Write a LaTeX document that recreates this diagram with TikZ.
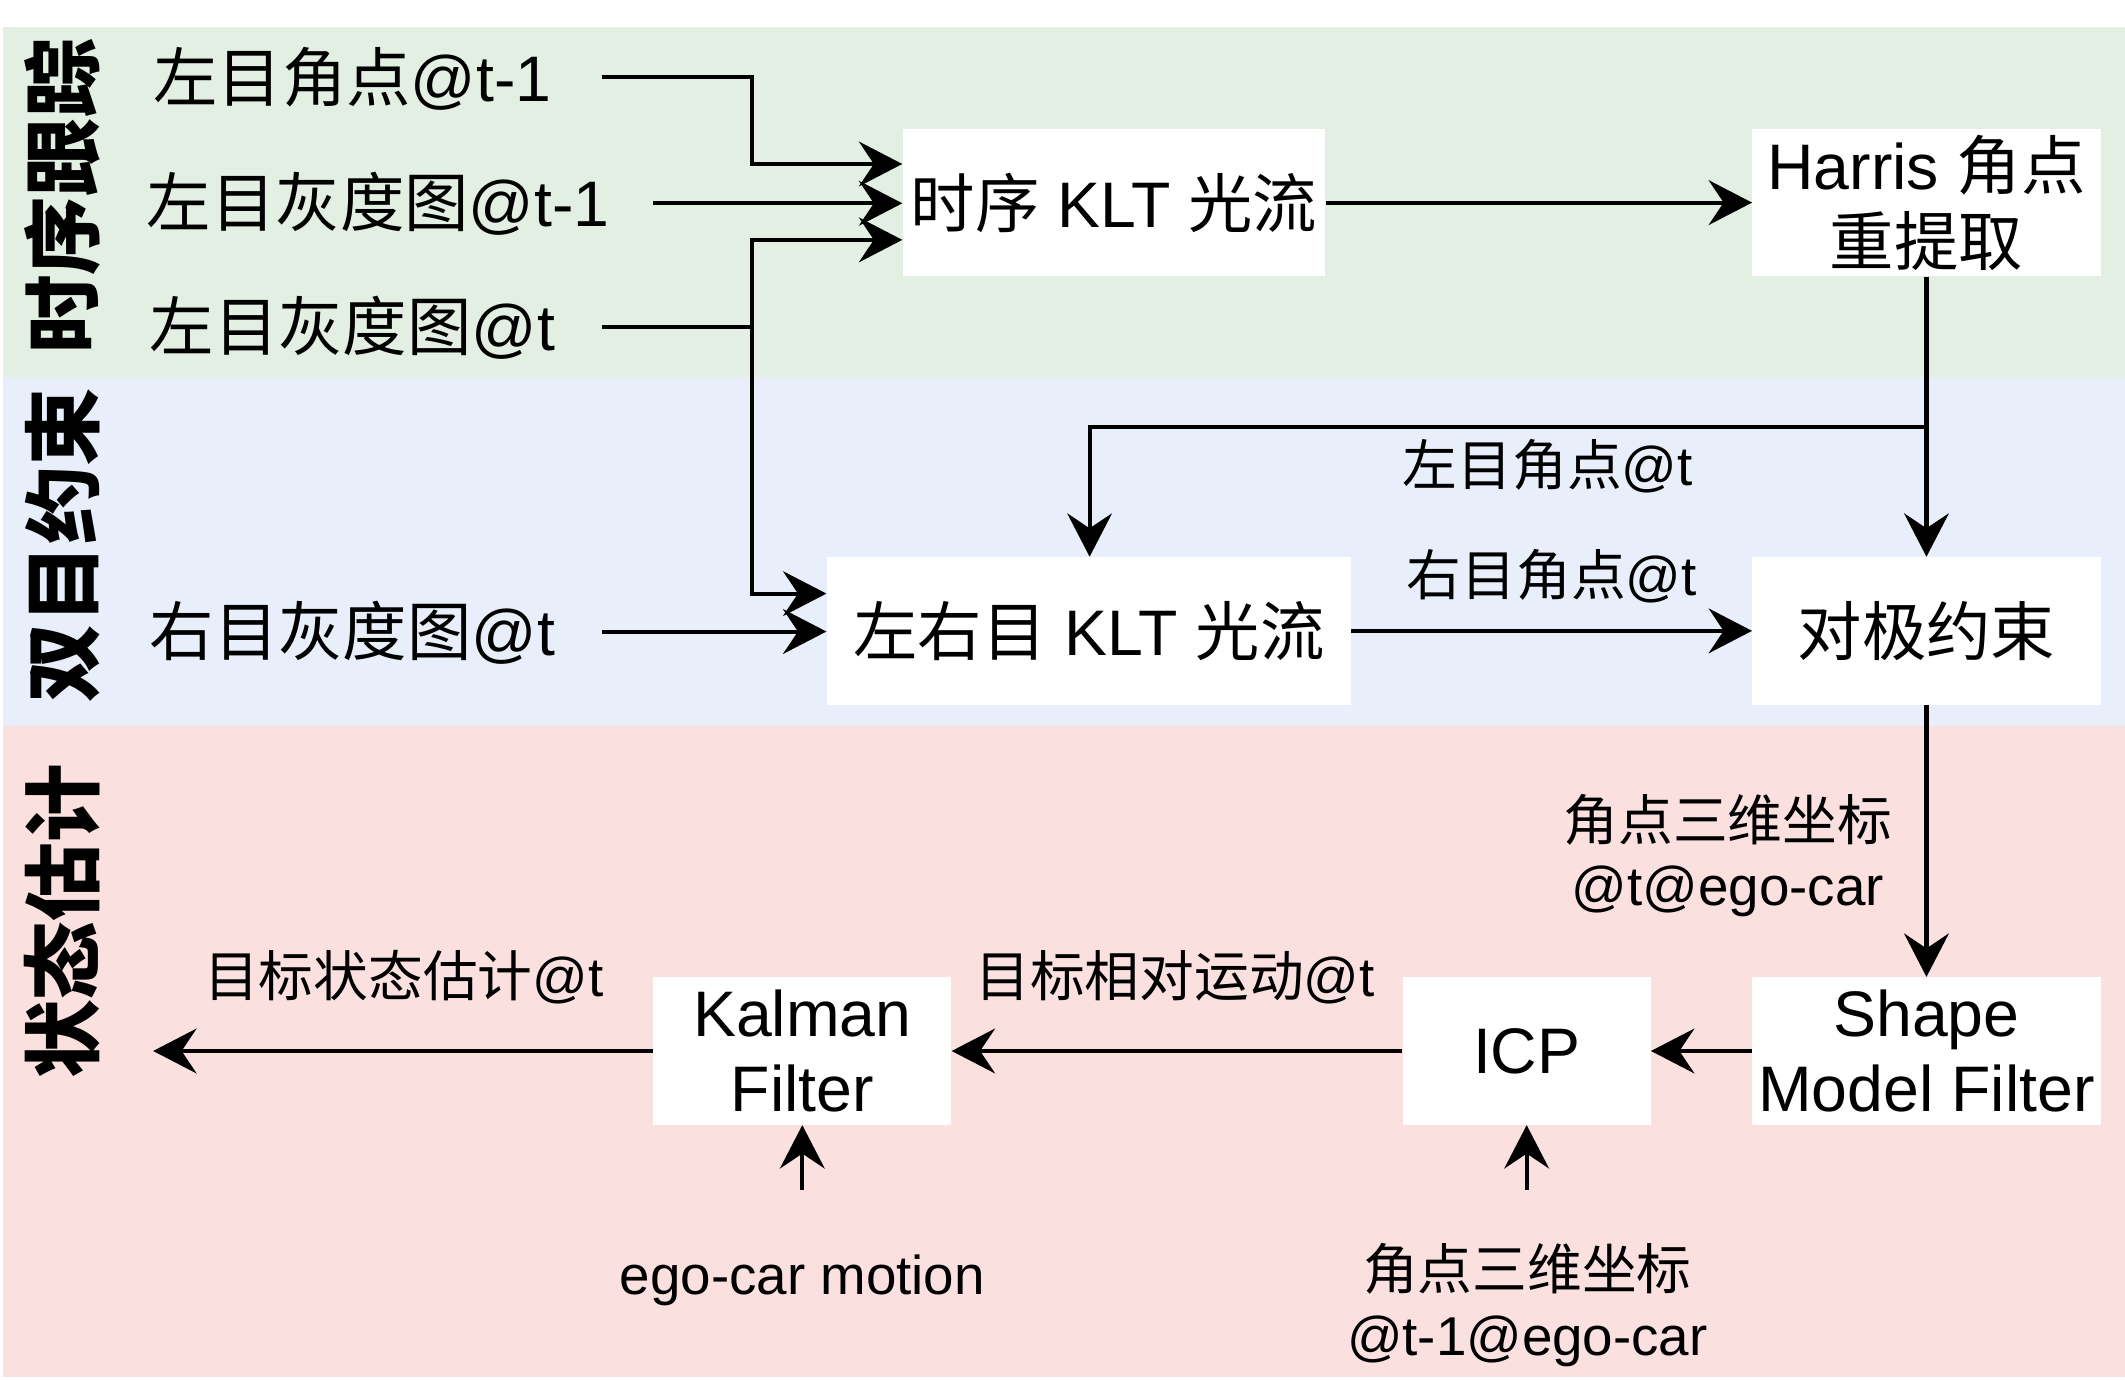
\documentclass[tikz,border=0pt]{standalone}
\usepackage{fontspec}
\setmainfont{Liberation Sans}
\newfontfamily\cjk{Noto Sans CJK SC}
\usetikzlibrary{arrows.meta,calc}
\newcommand{\zh}[1]{{\cjk #1}}
\definecolor{bggreen}{RGB}{226,239,226}
\definecolor{bgblue}{RGB}{232,239,251}
\definecolor{bgpink}{RGB}{251,224,224}
\begin{document}
\begin{tikzpicture}[x=1pt,y=-1pt,
  box/.style={fill=white,draw=none,inner sep=0pt,align=center,
    font=\fontsize{47.5}{56}\selectfont},
  intext/.style={inner sep=0pt,font=\fontsize{47.5}{55}\selectfont},
  lbl/.style={inner sep=0pt,align=center,font=\fontsize{40.4}{48}\selectfont},
  side/.style={inner sep=0pt,rotate=90,font=\fontsize{58}{58}\selectfont\cjk\bfseries},
  arr/.style={line width=3pt,-{Stealth[length=32pt,width=33pt,inset=11pt]}},
  ln/.style={line width=3pt}]
\useasboundingbox (0,0) rectangle (1568,1018.2);
\fill[white] (0,0) rectangle (1568,1018.2);
% bands
\fill[bggreen] (2,20) rectangle (1568,278);
\fill[bgblue] (2,278) rectangle (1568,536);
\fill[bgpink] (2,536) rectangle (1568,1016);
% side labels
\node[side] (s1) at (46,145) {时序跟踪};
\node[side] (s2) at (46,402) {双目约束};
\node[side] (s3) at (46,680) {状态估计};
% boxes
\node[box,minimum width=312pt,minimum height=109pt] (klt1) at (822,149.5) {\zh{时序} KLT \zh{光流}};
\node[box,minimum width=257pt,minimum height=109pt] (harris) at (1421.5,149.5) {Harris \zh{角点}\\\zh{重提取}};
\node[box,minimum width=387pt,minimum height=109pt] (klt2) at (803.5,465.5) {\zh{左右目} KLT \zh{光流}};
\node[box,minimum width=257pt,minimum height=109pt] (epi) at (1421.5,465.5) {\zh{对极约束}};
\node[box,minimum width=257pt,minimum height=109pt] (shape) at (1421.5,775.5) {Shape\\Model Filter};
\node[box,minimum width=183pt,minimum height=109pt] (icp) at (1126.5,775.5) {ICP};
\node[box,minimum width=220pt,minimum height=109pt] (kal) at (592,775.5) {Kalman\\Filter};
% inputs
\node[intext] (in1) at (260,58) {\zh{左目角点}@t-1};
\node[intext] (in2) at (279,150) {\zh{左目灰度图}@t-1};
\node[intext] (in3) at (260,242) {\zh{左目灰度图}@t};
\node[intext] (in4) at (260,467) {\zh{右目灰度图}@t};
\coordinate (a1) at (444,57);
\coordinate (a2) at (482,150);
\coordinate (a3) at (444,241);
\coordinate (a4) at (444,466);
\coordinate (out) at (113,775.5);
\coordinate (ego) at (592,878);
\coordinate (pts) at (1126.5,878);
% connectors
\draw[arr] (a1) -- (555,57) -- (555,121) -- (klt1.west |- 0,121);
\draw[arr] (a2) -- (klt1.west |- a2);
\draw[ln] (a3) -- (555,241);
\draw[arr] (555,241) -- (555,177) -- (klt1.west |- 0,177);
\draw[arr] (555,241) -- (555,438) -- (klt2.west |- 0,438);
\draw[arr] (a4) -- (klt2.west |- a4);
\draw[arr] (klt1.east) -- (harris.west);
\draw[arr] (harris.south) -- (epi.north);
\draw[arr] (harris.south |- 0,315) -- (804,315) -- (klt2.north -| 804,0);
\draw[arr] (klt2.east) -- (epi.west);
\draw[arr] (epi.south) -- (shape.north);
\draw[arr] (shape.west) -- (icp.east);
\draw[arr] (icp.west) -- (kal.east);
\draw[arr] (kal.west) -- (out);
\draw[arr] (ego) -- (kal.south);
\draw[arr] (pts) -- (icp.south);
% labels
\node[lbl] (l1) at (1142,344) {\zh{左目角点}@t};
\node[lbl] (l2) at (1145,425) {\zh{右目角点}@t};
\node[lbl] (l3) at (1275,631) {\zh{角点三维坐标}\\@t@ego-car};
\node[lbl] (l4) at (867,721) {\zh{目标相对运动}@t};
\node[lbl] (l5) at (298,721) {\zh{目标状态估计}@t};
\node[lbl] (l6) at (592,945) {ego-car motion};
\node[lbl] (l7) at (1127,963) {\zh{角点三维坐标}\\@t-1@ego-car};
\end{tikzpicture}
\end{document}
